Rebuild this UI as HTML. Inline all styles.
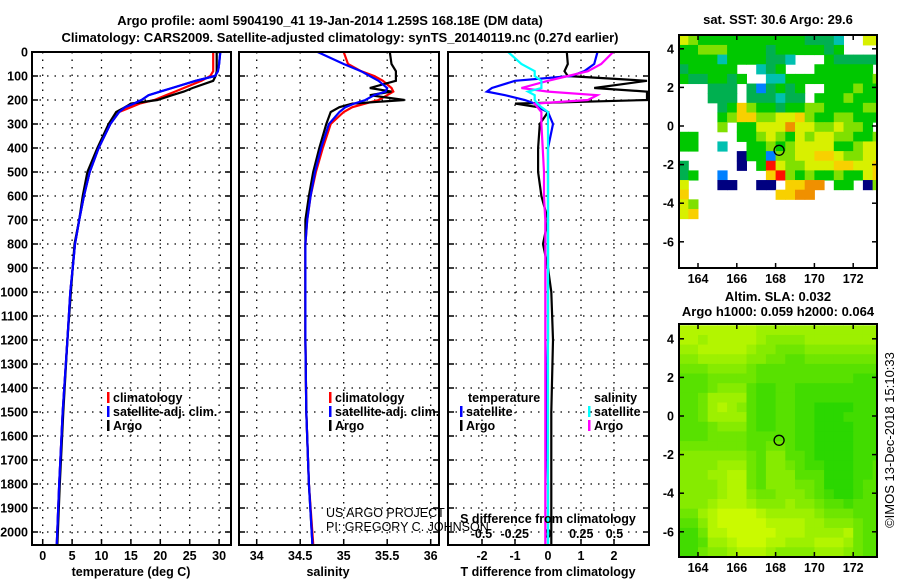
<!DOCTYPE html>
<html><head><meta charset="utf-8"><style>
html,body{margin:0;padding:0;background:#fff}
svg{display:block;font-family:"Liberation Sans",Arial,sans-serif}
.b{font-weight:bold;font-size:13px}
.t{font-weight:bold;font-size:12.5px}
</style></head><body>
<svg id="s" width="900" height="580" viewBox="0 0 900 580" xmlns="http://www.w3.org/2000/svg">
<text class="b" x="330" y="25" text-anchor="middle">Argo profile: aoml 5904190_41 19-Jan-2014 1.259S 168.18E (DM data)</text>
<text class="b" x="340" y="42" text-anchor="middle">Climatology: CARS2009. Satellite-adjusted climatology: synTS_20140119.nc (0.27d earlier)</text>
<text class="b" x="778" y="24" text-anchor="middle">sat. SST: 30.6 Argo: 29.6</text>
<text class="b" x="778" y="301" text-anchor="middle">Altim. SLA: 0.032</text>
<text class="b" x="778" y="316" text-anchor="middle">Argo h1000: 0.059 h2000: 0.064</text>
<text x="894" y="440" font-size="13" text-anchor="middle" transform="rotate(-90 894 440)">©IMOS 13-Dec-2018 15:10:33</text>
<g id="g"></g>
</svg>
<script>
// depth grid (m)
const depths=[0,50,80,100,120,150,165,180,200,215,230,250,300,400,500,600,700,800,900,1000,1200,1500,1800,2050];
const tempClim=[29,29,29,28.5,27,24,22.5,21,19,16.5,15,13,11.5,9.5,8,7,6.2,5.5,5.1,4.7,4.2,3.4,2.8,2.4];
const tempSat=[30.2,30,29.8,29.3,26,22,20,18,16.8,15.5,14,13,11.5,9.5,8,7,6.2,5.5,5.1,4.7,4.2,3.4,2.8,2.4];
const tempArgo=[29.6,29.6,29.6,29.4,29,25.5,24,22,19.5,15,14,12.5,11.2,9.3,7.6,6.8,6.2,5.4,5.1,4.8,4.2,3.5,2.9,2.5];
const salClim=[35.0,35.05,35.2,35.35,35.45,35.55,35.57,35.5,35.4,35.25,35.1,35.0,34.85,34.76,34.68,34.62,34.58,34.56,34.56,34.56,34.56,34.57,34.6,34.65];
const salSat=[34.7,35.0,35.2,35.3,35.4,35.5,35.48,35.35,35.25,35.12,35.02,34.95,34.83,34.74,34.67,34.62,34.58,34.56,34.56,34.56,34.56,34.57,34.6,34.64];
const salArgo=[35.53,35.55,35.6,35.6,35.6,35.3,35.55,35.3,35.7,35.1,34.95,34.85,34.8,34.72,34.65,34.6,34.56,34.56,34.56,34.56,34.56,34.57,34.6,34.64];
const dTArgo=[0.57,0.6,0.5,0.6,3.0,1.4,3.0,3.0,3.0,-1.0,-0.3,0,-0.25,-0.3,-0.3,-0.2,0,-0.15,0,0.1,0.15,0.1,0.1,0.1];
const dTSat=[1.5,1.4,1.1,0.7,-1.0,-1.7,-1.85,-1.3,-0.7,-0.4,-0.3,0,0.15,0,0,0,0,0,0,0,0,-0.05,0,0];
const dSSat=[-0.3,-0.2,-0.1,-0.1,-0.05,-0.05,-0.15,-0.1,-0.1,-0.08,-0.05,0,0,0,0,0,0,0,0,0,0,0,0,0];
const dSArgo=[0.49,0.4,0.3,0.15,0.0,-0.2,0,0.37,0.3,-0.1,-0.08,-0.05,-0.05,-0.04,-0.03,-0.03,-0.02,-0.02,-0.02,-0.02,-0.02,-0.02,-0.02,-0.02];
const depthTicks=[0,100,200,300,400,500,600,700,800,900,1000,1100,1200,1300,1400,1500,1600,1700,1800,1900,2000];
const tTicks=[0,5,10,15,20,25,30];
const sTicks=[34,34.5,35,35.5,36];
const dTTicks=[-2,-1,0,1,2];
const dSTicks=[-0.5,-0.25,0,0.25,0.5];
const latTicks=[4,2,0,-2,-4,-6];
const lonTicks=[164,166,168,170,172];
// SST map rows (lat 4.7 downward, 0.5 deg), cols lon 163..173
const sstRows=["ylgggggggggggGGGc..yy","gglllggggGgggggGg....","ggggcggggGGc...gGGGGG","Gggggg..cGg...gggggg.","gGGggGg..ccgggggggggl","...GGG.GbGgGg..ggglgg","...GGG.GGGcGG.ggglggg","....GgYlggGggllggggll","....glYYllyyYlggllggg","....l.ggyyyoyyllyllg.","gg....gglylgylyyllggl","gg..c..gglglyyyygglyy","......nggbllyyYYyllyy","G.....n.gryllyyyYYyyY","Gg..b....YrlglgglggyY","y...nn..nn.YYoo.gg.nl","Y.........YYoo.......","yl...................","yY...................","....................."];
const slaRows=["777777776666666666666","776777776555566666666","667777765544455555555","556666655443344444444","444555543333333333333","333444443333333333222","333455532233222222222","334666632233222222222","334676532233221111222","334666632233221112222","333455532233221111222","333444433333221111222","444444433443221111222","555555543553321111222","555566643554322111223","555667743555333111223","555567743555443111233","555567754455543211233","555677765556554332333","446788887666665444333","335788888777766555433","224778888877766667433","223667888776667776433","224556777655556665433","224556777655556665433"];
const NS="http://www.w3.org/2000/svg";
const G=document.getElementById('g');
function mk(tag,at,par){const e=document.createElementNS(NS,tag);for(const k in at)e.setAttribute(k,at[k]);(par||G).appendChild(e);return e;}
const Y0=52,KY=0.24,YB=545,YT=52;
const yD=d=>Y0+d*KY;
const P1={l:32,r:231},P2={l:239,r:439},P3={l:448,r:649};
const xT=v=>42.7+(v-0)*5.88;
const xS=v=>256.7+(v-34)*87;
const xDT=v=>548+v*33;
const xDS=v=>548+v*133;
function frame(p,name){
  mk('rect',{x:p.l,y:YT,width:p.r-p.l,height:YB-YT,fill:'none',stroke:'#000','stroke-width':2,});
}
function hgrid(p,labels){
  depthTicks.forEach(d=>{const y=yD(d);
    const ln=mk('line',{x1:p.l,x2:p.r,y1:y,y2:y,stroke:'#000','stroke-width':1.3,'stroke-dasharray':'1.5 6'});
    
    
    mk('line',{x1:p.l,x2:p.l+6,y1:y,y2:y,stroke:'#000','stroke-width':1.5});
    mk('line',{x1:p.r-6,x2:p.r,y1:y,y2:y,stroke:'#000','stroke-width':1.5});
    if(labels){const t=mk('text',{x:28,y:y+4.5,'text-anchor':'end',class:'t'});t.textContent=d;
      
      }
  });
}
function vgrid(p,ticks,fx,ly,fmt){
  ticks.forEach(v=>{const x=fx(v);
    const ln=mk('line',{x1:x,x2:x,y1:YT,y2:YB,stroke:'#000','stroke-width':1.3,'stroke-dasharray':'1.5 6'});
    
    
    mk('line',{x1:x,x2:x,y1:YB-6,y2:YB,stroke:'#000','stroke-width':1.5});
    const t=mk('text',{x:x,y:ly,'text-anchor':'middle',class:'t'});t.textContent=fmt?fmt(v):v;
    
    
  });
}
function line(vals,fx,col,name,p){
  const pts=depths.map((d,i)=>fx(vals[i]).toFixed(1)+','+yD(d).toFixed(1)).join(' ');
  const e=mk('polyline',{points:pts,fill:'none',stroke:col,'stroke-width':2.2,'clip-path':'url(#'+p+')'});
  
  
}
const defs=mk('defs',{});
[['c1',P1],['c2',P2],['c3',P3]].forEach(([id,p])=>{const c=mk('clipPath',{id:id},defs);mk('rect',{x:p.l,y:YT,width:p.r-p.l,height:YB-YT},c);});
const mc=mk('clipPath',{id:'m1'},defs);mk('rect',{x:679,y:35,width:198,height:233},mc);
const mc2=mk('clipPath',{id:'m2'},defs);mk('rect',{x:679,y:324,width:198,height:233},mc2);
// panel 1
hgrid(P1,true);vgrid(P1,tTicks,xT,560);
line(tempClim,xT,'#ff0000','temp-climatology-line','c1');
line(tempSat,xT,'#0000ff','temp-satellite-line','c1');
line(tempArgo,xT,'#000000','temp-argo-line','c1');
line(tempSat,xT,'#0000ff','temp-satellite-line-2','c1');
frame(P1,'temperature-panel');
// panel 2
hgrid(P2,false);vgrid(P2,sTicks,xS,560);
line(salClim,xS,'#ff0000','sal-climatology-line','c2');
line(salArgo,xS,'#000000','sal-argo-line','c2');
line(salSat,xS,'#0000ff','sal-satellite-line','c2');
frame(P2,'salinity-panel');
// panel 3
hgrid(P3,false);vgrid(P3,dTTicks,xDT,560);
dSTicks.forEach(v=>{const t=mk('text',{x:xDS(v),y:538,'text-anchor':'middle',class:'t'});t.textContent=v;
  
  });
line(dTArgo,xDT,'#000000','t-diff-argo-line','c3');
line(dTSat,xDT,'#0000ff','t-diff-satellite-line','c3');
line(dSArgo,xDS,'#ff00ff','s-diff-argo-line','c3');
line(dSSat,xDS,'#00ffff','s-diff-satellite-line','c3');
frame(P3,'difference-panel');
// axis titles
[['temperature (deg C)',131,576,'temperature-axis-title'],['salinity',328,576,'salinity-axis-title'],['T difference from climatology',548,576,'t-diff-axis-title'],['S difference from climatology',548,523,'s-diff-axis-title']].forEach(([s,x,y,n])=>{
  const t=mk('text',{x:x,y:y,'text-anchor':'middle',class:'t'});t.textContent=s;
  
  });
// legends
function leg(x,y,col,s,name){
  mk('rect',{x:x,y:y-10,width:2.5,height:11,fill:col});
  const t=mk('text',{x:x+6,y:y,class:'t'});t.textContent=s;
  
  
}
leg(107,402,'#ff0000','climatology','legend-climatology');
leg(107,416,'#0000ff','satellite-adj. clim.','legend-satellite-adj');
leg(107,430,'#000000','Argo','legend-argo');
leg(329,402,'#ff0000','climatology','legend2-climatology');
leg(329,416,'#0000ff','satellite-adj. clim.','legend2-satellite-adj');
leg(329,430,'#000000','Argo','legend2-argo');
{const t=mk('text',{x:468,y:402,class:'t'});t.textContent='temperature';}
{const t=mk('text',{x:594,y:402,class:'t'});t.textContent='salinity';}
leg(460,416,'#0000ff','satellite','legend-t-satellite');
leg(460,430,'#000000','Argo','legend-t-argo');
leg(588,416,'#00ffff','satellite','legend-s-satellite');
leg(588,430,'#ff00ff','Argo','legend-s-argo');
{const t=mk('text',{x:326,y:517,'font-size':12.5});t.textContent='US ARGO PROJECT';}
{const t=mk('text',{x:326,y:531,'font-size':12.5});t.textContent='PI: GREGORY C. JOHNSON';}
// maps
const LON0=163.0,KX=19.4;
const lx=lon=>698+(lon-164)*KX;
const ly1=lat=>126-lat*19.3;
const ly2=lat=>416-lat*19.3;
const sstCol={g:'#00c800',G:'#00b050',c:'#00c0b0',l:'#80e000',y:'#d8f000',Y:'#f8d000',o:'#f09000',b:'#0080ff',n:'#000080',r:'#ff1000'};
const mg1=mk('g',{'clip-path':'url(#m1)'});


sstRows.forEach((row,i)=>{for(let j=0;j<row.length;j++){const ch=row[j];if(ch==='.')continue;
  const lat=4.7-i*0.5, lon=LON0+j*0.5;
  const r=mk('rect',{x:lx(lon),y:ly1(lat),width:KX*0.5+0.5,height:19.3*0.5+0.5,fill:sstCol[ch]},mg1);
  
  }});
const mg2=mk('g',{'clip-path':'url(#m2)'});


slaRows.forEach((row,i)=>{for(let j=0;j<row.length;j++){const v=+row[j]/9;
  const lat=4.7-i*0.5, lon=LON0+j*0.5;
  const col='rgb('+Math.round(20+205*v)+','+Math.round(210+45*v)+',0)';
  const r=mk('rect',{x:lx(lon),y:ly2(lat),width:KX*0.5+0.5,height:19.3*0.5+0.5,fill:col},mg2);
  
  }});
function mapAxes(top,bot,fy,name){
  mk('rect',{x:679,y:top,width:198,height:bot-top,fill:'none',stroke:'#000','stroke-width':2,});
  latTicks.forEach(v=>{const y=fy(v);
    mk('line',{x1:679,x2:684,y1:y,y2:y,stroke:'#000','stroke-width':1.5});
    mk('line',{x1:872,x2:877,y1:y,y2:y,stroke:'#000','stroke-width':1.5});
    const t=mk('text',{x:674,y:y+4.5,'text-anchor':'end',class:'t'});t.textContent=v;
    
    });
  lonTicks.forEach(v=>{const x=lx(v);
    mk('line',{x1:x,x2:x,y1:top,y2:top+5,stroke:'#000','stroke-width':1.5});
    mk('line',{x1:x,x2:x,y1:bot-5,y2:bot,stroke:'#000','stroke-width':1.5});
    const t=mk('text',{x:x,y:bot+15,'text-anchor':'middle',class:'t'});t.textContent=v;
    
    });
  const c=mk('circle',{cx:lx(168.18),cy:fy(-1.259),r:5,fill:'none',stroke:'#000','stroke-width':1.3});
  
  
}
mapAxes(35,268,ly1,'sst-map-frame');
mapAxes(324,557,ly2,'sla-map-frame');
</script>
</body></html>
